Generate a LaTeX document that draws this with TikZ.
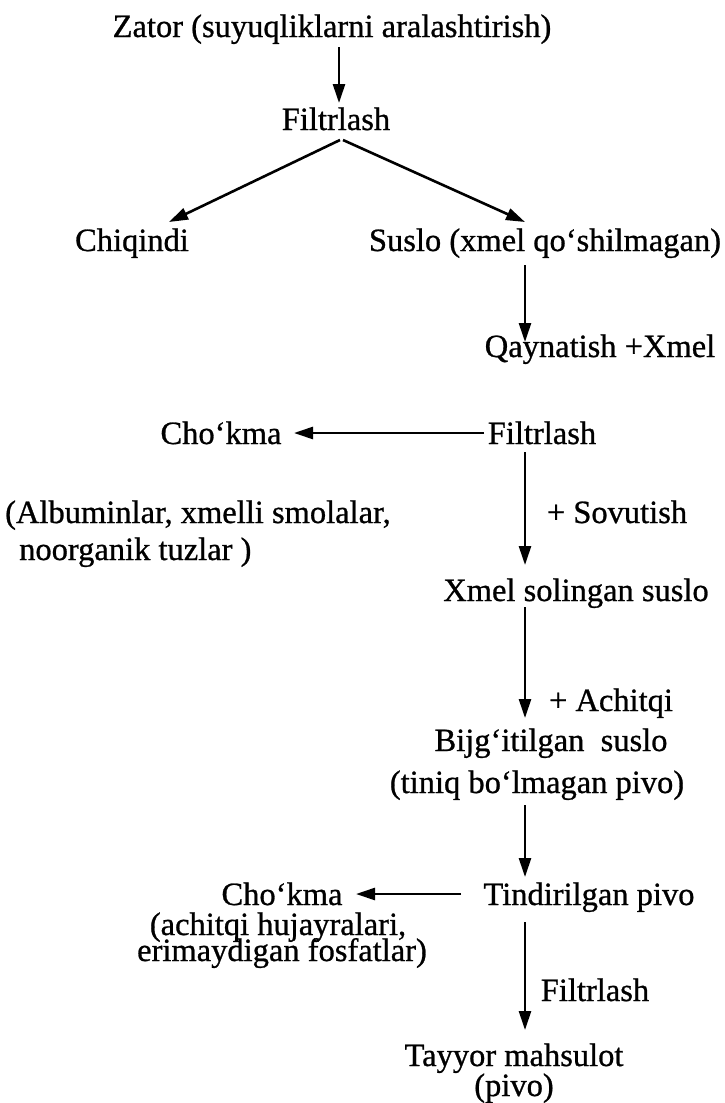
\documentclass[tikz,border=0pt]{standalone}
\usepackage{fontspec}
\setmainfont{Liberation Serif}
\newfontfamily\flowfont[FakeBold=0.8]{Liberation Serif}
\usetikzlibrary{arrows.meta,calc}
\begin{document}
\begin{tikzpicture}[x=1pt,y=-1pt,
  lbl/.style={inner sep=0pt, anchor=base, font=\flowfont\fontsize{32.5}{36}\selectfont},
  lblw/.style={lbl, anchor=base west},
  arr/.style={line width=2.6pt, -{Triangle[length=19pt,width=12pt]}},
]
\useasboundingbox (0,0) rectangle (724,1103);

% process steps
\node[lbl] (zator) at (332,37) {Zator (suyuqliklarni aralashtirish)};
\node[lbl] (filt1) at (336,130) {Filtrlash};
\node[lbl] (chiq) at (132,251) {Chiqindi};
\node[lbl] (suslo) at (545,251) {Suslo (xmel qo‘shilmagan)};
\node[lbl] (qayn) at (600,357) {Qaynatish +Xmel};
\node[lbl] (chok1) at (221,444) {Cho‘kma};
\node[lbl] (filt2) at (542,444) {Filtrlash};
\node[lbl] (sovut) at (617,523) {+ Sovutish};
\node[lblw] (albu1) at (5,523) {(Albuminlar, xmelli smolalar,};
\node[lblw] (albu2) at (19,560) {noorganik tuzlar )};
\node[lbl] (xmel) at (576,601) {Xmel solingan suslo};
\node[lbl] (achit) at (611,711) {+ Achitqi};
\node[lbl] (bij1) at (551,751) {Bijg‘itilgan \ suslo};
\node[lbl] (bij2) at (537,793) {(tiniq bo‘lmagan pivo)};
\node[lbl] (chok2) at (282,905) {Cho‘kma};
\node[lbl] (tind) at (589,905) {Tindirilgan pivo};
\node[lbl] (chok2a) at (278,935) {(achitqi hujayralari,};
\node[lbl] (chok2b) at (282,961) {erimaydigan fosfatlar)};
\node[lbl] (filt3) at (595,1001) {Filtrlash};
\node[lbl] (tayyor) at (514,1066) {Tayyor mahsulot};
\node[lbl] (pivo) at (514,1096) {(pivo)};

% flow arrows
\draw[arr] ($(zator.base)+(7,10)$) -- ($(filt1.base)+(3,-27)$);
\draw[arr] ($(filt1.base)+(4,10)$) -- ($(chiq.base)+(37,-29)$);
\draw[arr] ($(filt1.base)+(7,10)$) -- ($(suslo.base)+(-20,-29)$);
\draw[arr] ($(suslo.base)+(-20,14)$) -- ($(qayn.base)+(-75,-15)$);
\draw[arr] ($(filt2.base)+(-58,-11)$) -- ($(chok1.base)+(73,-11)$);
\draw[arr] ($(filt2.base)+(-17,8)$) -- ($(xmel.base)+(-51,-36)$);
\draw[arr] ($(xmel.base)+(-51,6)$) -- ($(bij1.base)+(-26,-33)$);
\draw[arr] ($(bij2.base)+(-12,12)$) -- ($(tind.base)+(-64,-28)$);
\draw[arr] ($(tind.base)+(-128,-11)$) -- ($(chok2.base)+(74,-11)$);
\draw[arr] ($(tind.base)+(-64,17)$) -- ($(tayyor.base)+(11,-36)$);
\end{tikzpicture}
\end{document}
